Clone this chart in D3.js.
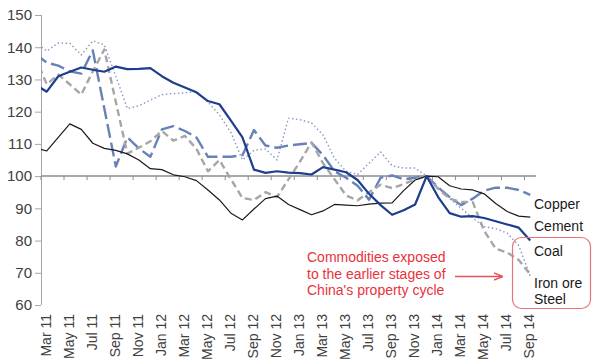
<!DOCTYPE html>
<html>
<head>
<meta charset="utf-8">
<script src="https://cdn.jsdelivr.net/npm/d3@7"></script>
<style>
  body { margin: 0; background: #fff; }
  svg { display: block; font-family: "Liberation Sans", Arial, sans-serif; }
</style>
</head>
<body>
<div id="chart"></div>
<script>
// months, Feb 11 is only there so the lines run into the left axis
var months = ["Feb 11","Mar 11","Apr 11","May 11","Jun 11","Jul 11","Aug 11","Sep 11","Oct 11","Nov 11","Dec 11",
  "Jan 12","Feb 12","Mar 12","Apr 12","May 12","Jun 12","Jul 12","Aug 12","Sep 12","Oct 12","Nov 12","Dec 12",
  "Jan 13","Feb 13","Mar 13","Apr 13","May 13","Jun 13","Jul 13","Aug 13","Sep 13","Oct 13","Nov 13","Dec 13",
  "Jan 14","Feb 14","Mar 14","Apr 14","May 14","Jun 14","Jul 14","Aug 14","Sep 14"];

var coal = [128.4, 126.2, 131, 132.4, 133.7, 133, 132.4, 134, 133.2, 133.3, 133.5,
  131, 129, 127.5, 126, 123.3, 122.3, 117.2, 112, 102, 101, 101.5, 101.1,
  100.9, 100.5, 102.8, 102, 101.2, 98.8, 94.5, 91, 88, 89.4, 91.2, 100,
  93.5, 88.5, 87.4, 87.6, 87, 86, 85, 84, 80];

var cement = [108.8, 107.8, 112, 116.2, 114.5, 110.2, 108.6, 108, 106.9, 105, 102.3,
  102, 100.4, 99.8, 98.6, 95.7, 92.6, 88.5, 86.4, 89.8, 93, 93.8, 91.2,
  89.6, 88, 89.2, 91.2, 91, 90.8, 91.3, 91.6, 91.7, 95.5, 98.8, 100,
  99.8, 97, 96, 95.7, 94.5, 91.5, 89, 87.6, 87.3];

var copper = [138, 135.2, 134.3, 132.5, 131.8, 139, 121, 103, 112, 108.6, 106,
  114.5, 115.5, 114, 112, 106, 106, 106, 106.5, 114.3, 109.5, 108.8, 109.5,
  109.9, 110.3, 106.5, 101.5, 99.5, 97, 92.7, 99.5, 100.2, 99, 99.5, 100,
  96.5, 93.5, 91, 93, 95.5, 96.4, 96.4, 95.7, 94.2];

var ironOre = [141.6, 138.8, 141.3, 141.2, 137.6, 142, 140.7, 131, 121, 121.8, 123.6,
  125.3, 125.6, 125.8, 126.3, 123, 119, 113.5, 105, 108, 108.4, 105, 118,
  117.5, 116.5, 112.8, 105.5, 101.5, 100.5, 104, 107.5, 103.2, 102.5, 102.5, 100,
  96.5, 93, 90, 87, 84.3, 83.7, 82.3, 78.5, 69];

var steel = [137, 128.5, 131.5, 128.5, 125.3, 132.5, 139.3, 123, 107, 108.8, 110.8,
  114, 111, 112.5, 108.5, 101.5, 105, 99, 93.2, 92.6, 95, 93.5, 99,
  104.5, 110.5, 104, 99, 94, 92.5, 95, 97.3, 96.3, 97.5, 99, 100,
  96, 93, 92, 92, 83, 77.5, 76.3, 74, 69.5];

var yTicks = [60, 70, 80, 90, 100, 110, 120, 130, 140, 150];
var seriesNames = ["Copper", "Cement", "Coal", "Iron ore", "Steel"];
var noteLines = ["Commodities exposed", "to the earlier stages of", "China's property cycle"];

var width = 600, height = 363;
var plot = { left: 41, right: 536, top: 15, bottom: 305 };
var step = (plot.right - plot.left) / 43;

var svg = d3.select("#chart").append("svg")
    .attr("width", width)
    .attr("height", height);

var x = d3.scalePoint()
    .domain(months)
    .range([plot.left - step / 2, plot.right - step / 2]);

var y = d3.scaleLinear()
    .domain([60, 150])
    .range([plot.bottom, plot.top]);

svg.append("clipPath").attr("id", "clip")
  .append("rect")
    .attr("x", plot.left).attr("y", 0)
    .attr("width", plot.right - plot.left).attr("height", height);

// y axis
var yAxis = svg.append("g")
    .attr("transform", "translate(" + plot.left + ",0)")
    .call(d3.axisLeft(y).tickValues(yTicks).tickSize(6).tickPadding(3));
yAxis.select(".domain").attr("stroke", "#a6a6a6").attr("d", "M0.5," + plot.top + "V" + plot.bottom);
yAxis.selectAll(".tick line").attr("stroke", "#a6a6a6");
yAxis.selectAll(".tick text")
    .attr("fill", "#404040")
    .style("font-size", "15px")
    .style("font-family", "Liberation Sans, Arial, sans-serif");

// horizontal axis crosses at 100
var shown = months.slice(1);
var base = svg.append("g");
base.append("line")
    .attr("x1", plot.left).attr("x2", plot.right)
    .attr("y1", y(100)).attr("y2", y(100))
    .attr("stroke", "#8c8c8c").attr("stroke-width", 1.5);
base.selectAll(".xtick")
    .data(shown.filter(function(d, i) { return i % 2 === 0; }))
    .enter().append("line")
    .attr("x1", function(d) { return x(d) - step / 2; })
    .attr("x2", function(d) { return x(d) - step / 2; })
    .attr("y1", y(100)).attr("y2", y(100) + 4)
    .attr("stroke", "#8c8c8c");

svg.selectAll(".xlabel")
    .data(shown.filter(function(d, i) { return i % 2 === 0; }))
    .enter().append("text")
    .attr("transform", function(d) { return "translate(" + (x(d) - 1) + "," + (plot.bottom + 9) + ")rotate(-90)"; })
    .attr("text-anchor", "end")
    .attr("dy", "0.35em")
    .attr("fill", "#404040")
    .style("font-size", "14px")
    .text(function(d) { return d; });

// lines
var series = [
  { name: "Copper", values: copper, color: "#6682b8", width: 2.4, dash: "14,5" },
  { name: "Steel", values: steel, color: "#a6a6a6", width: 2.4, dash: "7,4" },
  { name: "Iron ore", values: ironOre, color: "#8796c2", width: 1.4, dash: "1.5,2.5" },
  { name: "Cement", values: cement, color: "#1a1a1a", width: 1.2, dash: null },
  { name: "Coal", values: coal, color: "#1f3d8f", width: 2.2, dash: null }
];

var line = d3.line()
    .x(function(d, i) { return x(months[i]); })
    .y(function(d) { return y(d); });

svg.append("g").attr("clip-path", "url(#clip)")
  .selectAll("path")
  .data(series)
  .enter().append("path")
    .attr("d", function(s) { return line(s.values); })
    .attr("fill", "none")
    .attr("stroke", function(s) { return s.color; })
    .attr("stroke-width", function(s) { return s.width; })
    .attr("stroke-dasharray", function(s) { return s.dash; })
    .attr("stroke-linejoin", "round");

// series labels at the right end
var labelY = [204, 226.5, 251.5, 283.5, 299.5];
svg.selectAll(".slabel")
    .data(seriesNames)
    .enter().append("text")
    .attr("x", 534)
    .attr("y", function(d, i) { return labelY[i]; })
    .attr("dy", "0.35em")
    .attr("fill", "#1a1a1a")
    .style("font-size", "14px")
    .text(function(d) { return d; });

// red box and note
svg.append("rect")
    .attr("x", 512.5).attr("y", 237.5)
    .attr("width", 78).attr("height", 71)
    .attr("rx", 9).attr("ry", 9)
    .attr("fill", "none")
    .attr("stroke", "#e8737b").attr("stroke-width", 1.2);

svg.selectAll(".note")
    .data(noteLines)
    .enter().append("text")
    .attr("x", 307)
    .attr("y", function(d, i) { return 257.5 + i * 16.5; })
    .attr("dy", "0.35em")
    .attr("fill", "#e8323c")
    .style("font-size", "14px")
    .text(function(d) { return d; });

svg.append("defs").append("marker")
    .attr("id", "arrow")
    .attr("viewBox", "0 0 10 10")
    .attr("refX", 9).attr("refY", 5)
    .attr("markerWidth", 7).attr("markerHeight", 7)
    .attr("orient", "auto")
  .append("path")
    .attr("d", "M0,1L10,5L0,9")
    .attr("fill", "none")
    .attr("stroke", "#e8505a").attr("stroke-width", 1.5);

svg.append("line")
    .attr("x1", 455).attr("x2", 502)
    .attr("y1", 276.5).attr("y2", 276.5)
    .attr("stroke", "#e8505a").attr("stroke-width", 1.3)
    .attr("marker-end", "url(#arrow)");
</script>
</body>
</html>
